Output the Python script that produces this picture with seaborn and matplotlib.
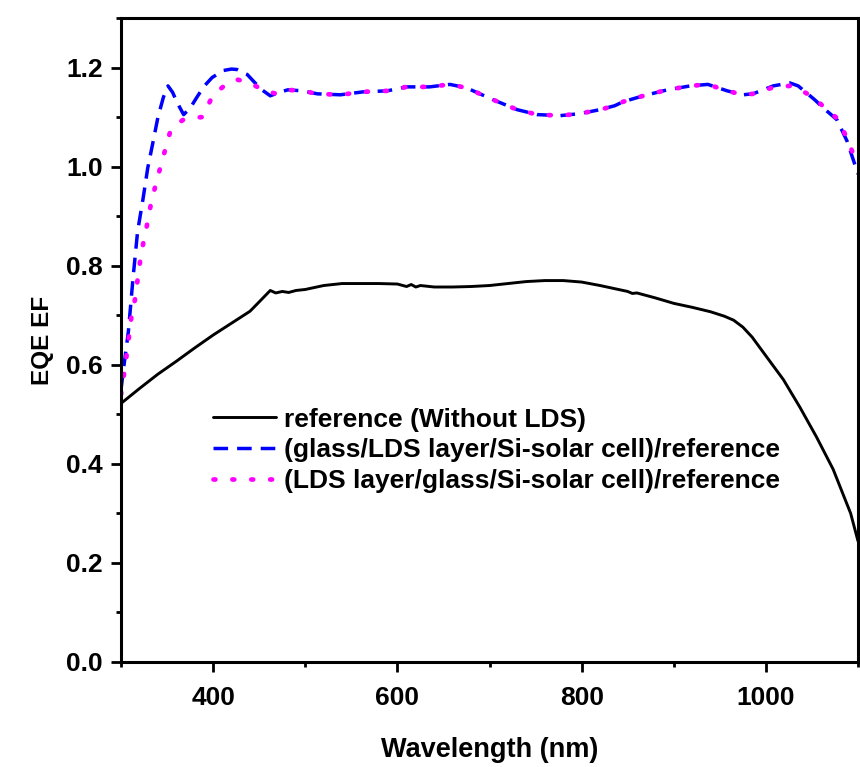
import numpy as np
import pandas as pd
import seaborn as sns
import matplotlib.pyplot as plt
from matplotlib.ticker import MultipleLocator

# values
wl_ref = [300, 320, 340, 360, 380, 400, 420, 440, 450, 462, 468, 475, 482, 490, 500,
          520, 540, 560, 580, 600, 610, 615, 620, 625, 640, 660, 680, 700, 720, 740,
          760, 780, 800, 820, 840, 850, 855, 860, 880, 900, 920, 940, 955, 965, 975,
          985, 1000, 1019, 1037, 1055, 1073, 1092, 1100]
eqe_ref = [0.522, 0.552, 0.581, 0.607, 0.634, 0.66, 0.684, 0.708, 0.727, 0.75, 0.745, 0.748,
           0.746, 0.75, 0.752, 0.76, 0.764, 0.764, 0.764, 0.763, 0.758, 0.762, 0.757, 0.76,
           0.757, 0.757, 0.758, 0.76, 0.764, 0.768, 0.77, 0.77, 0.767, 0.76, 0.752, 0.748,
           0.744, 0.745, 0.735, 0.724, 0.716, 0.707, 0.698, 0.69, 0.676, 0.656, 0.618,
           0.57, 0.514, 0.454, 0.389, 0.30, 0.244]

wl_glass = [300, 304, 308, 313, 318, 324, 329, 335, 340, 346, 351, 356, 361, 368, 375,
            382, 390, 399, 411, 420, 426, 432, 437, 445, 453, 462, 472, 481, 497, 513,
            538, 563, 589, 610, 635, 657, 675, 704, 730, 752, 777, 798, 820, 836, 845,
            867, 893, 918, 937, 958, 975, 986, 1008, 1026, 1035, 1053, 1062, 1077, 1088,
            1100]
eqe_glass = [0.55, 0.61, 0.667, 0.774, 0.869, 0.936, 0.997, 1.052, 1.099, 1.14, 1.163,
             1.15, 1.129, 1.105, 1.118, 1.139, 1.162, 1.18, 1.194, 1.197, 1.196, 1.19,
             1.186, 1.17, 1.155, 1.143, 1.15, 1.155, 1.153, 1.147, 1.145, 1.151, 1.153,
             1.161, 1.161, 1.166, 1.159, 1.135, 1.115, 1.105, 1.103, 1.107, 1.115, 1.123,
             1.131, 1.143, 1.155, 1.163, 1.166, 1.153, 1.145, 1.147, 1.163, 1.169, 1.163,
             1.135, 1.119, 1.095, 1.052, 0.985]

wl_lds = [300, 304, 308, 311, 316, 319, 323, 328, 333, 339, 346, 353, 360, 367, 375,
          388, 394, 400, 412, 425, 436, 448, 458, 469, 481, 497, 513, 538, 563, 589,
          610, 635, 657, 675, 704, 730, 752, 777, 798, 820, 836, 845, 867, 893, 918,
          937, 958, 975, 986, 1008, 1026, 1035, 1053, 1062, 1077, 1088, 1100]
eqe_lds = [0.54, 0.59, 0.646, 0.693, 0.74, 0.788, 0.835, 0.88, 0.93, 0.973, 1.021,
           1.068, 1.085, 1.094, 1.098, 1.10, 1.122, 1.145, 1.163, 1.176, 1.172, 1.161,
           1.152, 1.147, 1.155, 1.153, 1.147, 1.145, 1.151, 1.153, 1.161, 1.161, 1.166,
           1.159, 1.135, 1.115, 1.105, 1.103, 1.107, 1.115, 1.123, 1.131, 1.143, 1.155,
           1.163, 1.166, 1.153, 1.145, 1.147, 1.16, 1.163, 1.158, 1.138, 1.122, 1.098,
           1.058, 1.0]

labels = ["reference (Without LDS)",
          "(glass/LDS layer/Si-solar cell)/reference",
          "(LDS layer/glass/Si-solar cell)/reference"]

sns.set_style("ticks")
plt.rcParams['font.family'] = ['Liberation Sans', 'DejaVu Sans']
plt.rcParams['font.weight'] = 'bold'
for k in ['text.color', 'axes.labelcolor', 'xtick.color', 'ytick.color', 'axes.edgecolor']:
    plt.rcParams[k] = 'black'

fig = plt.figure(figsize=(8.6, 7.67), dpi=100)
ax = fig.add_axes([0.1407, 0.1369, 0.857, 0.8396])

sns.lineplot(x=wl_ref, y=eqe_ref, ax=ax, color="black", lw=2.1,
             estimator=None, sort=False, label=labels[0])
sns.lineplot(x=wl_glass, y=eqe_glass, ax=ax, color="#0000ff", lw=2.5,
             linestyle=(0, (4.2, 2.6)), estimator=None, sort=False, label=labels[1])
sns.lineplot(x=wl_lds, y=eqe_lds, ax=ax, color="#ff00ff", lw=3.4,
             linestyle=(0, (0.4, 3.6)), dash_capstyle="round",
             estimator=None, sort=False, label=labels[2])

ax.set_xlim(300, 1100)
ax.set_ylim(0, 1.3)
ax.xaxis.set_minor_locator(MultipleLocator(100))
ax.yaxis.set_major_locator(MultipleLocator(0.2))
ax.yaxis.set_minor_locator(MultipleLocator(0.1))
ax.set_xticks([400, 600, 800, 1000])
ax.yaxis.set_major_formatter(plt.FormatStrFormatter('%.1f'))

for s in ax.spines.values():
    s.set_linewidth(2.2)
ax.tick_params(which="major", length=7, width=2, labelsize=19, direction="out")
ax.tick_params(which="minor", length=3.6, width=2, direction="out")
ax.tick_params(axis="x", which="major", pad=10)
ax.tick_params(axis="y", which="major", pad=6)

ax.set_xlabel("Wavelength (nm)", fontsize=19.5, fontweight="bold", labelpad=20)
ax.set_ylabel("EQE EF", fontsize=17.5, fontweight="bold", labelpad=9)

leg = ax.legend(loc="upper left", bbox_to_anchor=(0.125, 0.395), frameon=False,
                fontsize=19, handlelength=2.4, handletextpad=0.3,
                labelspacing=0.25, borderpad=0, borderaxespad=0)

fig.savefig("out.png", dpi=100)
